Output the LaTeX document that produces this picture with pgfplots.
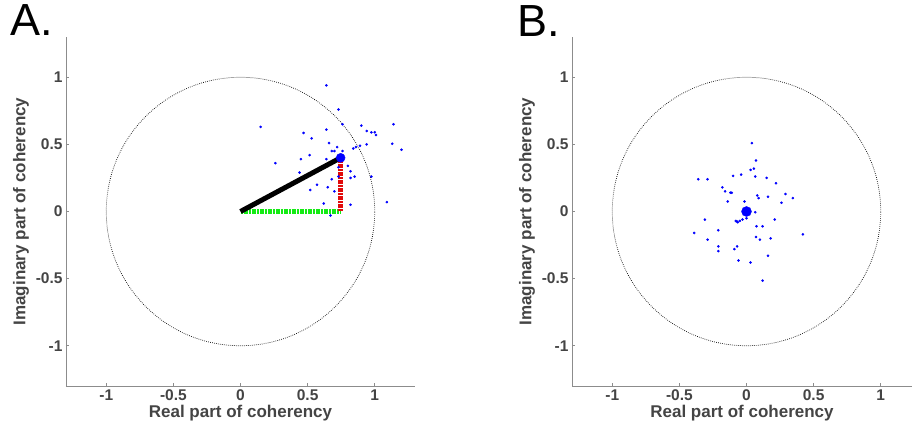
\documentclass[border=0pt]{standalone}
\usepackage{fontspec}
\setmainfont{Liberation Sans}
\usepackage{pgfplots}
\usepackage{pgfplotstable}
\pgfplotsset{compat=1.18}

\definecolor{axgray}{HTML}{8C8C8C}
\definecolor{txtgray}{HTML}{444444}
\definecolor{ptblue}{RGB}{0,0,255}
\definecolor{lgreen}{RGB}{20,235,20}
\definecolor{lred}{RGB}{225,10,10}

% trial points, panel A (real, imag)
\pgfplotstableread{
x y
0.64 0.94
0.73 0.76
0.15 0.63
0.76 0.65
0.90 0.64
1.14 0.65
0.94 0.60
0.975 0.59
1.00 0.59
1.01 0.57
0.47 0.585
0.64 0.61
0.53 0.545
0.66 0.51
0.72 0.48
0.68 0.45
0.70 0.45
0.76 0.45
0.84 0.47
0.86 0.48
0.89 0.49
0.94 0.50
1.13 0.505
1.20 0.46
0.515 0.42
0.45 0.39
0.26 0.36
0.64 0.39
0.73 0.33
0.82 0.30
0.80 0.34
0.44 0.29
0.85 0.26
0.82 0.25
0.73 0.26
0.68 0.24
0.57 0.20
0.65 0.18
0.70 0.15
0.52 0.16
0.975 0.26
0.62 0.06
0.82 0.05
1.09 0.07
0.67 -0.03
}\ptsA

% trial points, panel B
\pgfplotstableread{
x y
0.04 0.51
0.07 0.38
0.03 0.31
0.055 0.32
-0.10 0.265
-0.04 0.275
0.065 0.26
0.15 0.25
-0.36 0.24
-0.29 0.24
0.22 0.21
-0.18 0.18
-0.16 0.15
-0.12 0.14
-0.11 0.14
0.29 0.13
0.345 0.10
0.08 0.12
0.16 0.11
0.09 0.10
0.26 0.065
-0.14 0.075
-0.015 0.075
0.065 -0.005
0.00 -0.05
-0.03 -0.06
-0.05 -0.07
-0.07 -0.075
-0.08 -0.07
-0.065 -0.08
-0.31 -0.06
0.21 -0.06
-0.39 -0.16
-0.21 -0.14
0.075 -0.11
0.12 -0.11
0.42 -0.17
-0.29 -0.21
0.07 -0.19
0.10 -0.21
0.18 -0.20
-0.21 -0.26
-0.21 -0.295
-0.07 -0.26
-0.09 -0.28
0.16 -0.33
-0.06 -0.365
0.03 -0.38
0.12 -0.515
}\ptsB

\pgfplotsset{cohstyle/.style={
  scale only axis, height=349pt,
  xmin=-1.3, ymin=-1.3, ymax=1.3,
  axis x line*=bottom, axis y line*=left,
  axis line style={axgray, line width=0.8pt},
  tick align=inside, major tick length=3pt,
  tick style={axgray, line width=0.8pt},
  xtick={-1,-0.5,0,0.5,1}, ytick={-1,-0.5,0,0.5,1},
  xticklabels={-1,-0.5,0,0.5,1}, yticklabels={-1,-0.5,0,0.5,1},
  tick label style={font=\fontsize{15.5}{16}\selectfont\bfseries, text=txtgray},
  label style={font=\fontsize{17}{18}\selectfont\bfseries, text=txtgray},
  xlabel={Real part of coherency}, ylabel={Imaginary part of coherency},
  xlabel style={yshift=2pt},
}}

\begin{document}
\begin{tikzpicture}
\useasboundingbox (-66pt,-44pt) rectangle (846pt,386pt);

\begin{axis}[cohstyle, width=349pt, xmax=1.3, at={(0pt,0pt)}, anchor=south west]
\draw[black, line width=0.7pt, dash pattern=on 0.7pt off 1.3pt] (axis cs:0,0) circle [radius=1];
\addplot[only marks, mark=*, mark size=1.1pt, ptblue] table {\ptsA};
\addplot[lgreen, line width=5pt, dash pattern=on 1.2pt off 0.4pt] coordinates {(0,0) (0.746,0)};
\addplot[lred, line width=5pt, dash pattern=on 1.2pt off 0.4pt] coordinates {(0.746,0) (0.746,0.40)};
\addplot[black, line width=5pt] coordinates {(0,0) (0.746,0.40)};
\addplot[only marks, mark=*, mark size=4.5pt, ptblue] coordinates {(0.746,0.40)};
\end{axis}

\begin{axis}[cohstyle, width=340pt, xmax=1.233, at={(506pt,0pt)}, anchor=south west]
\draw[black, line width=0.7pt, dash pattern=on 0.7pt off 1.3pt] (axis cs:0,0) circle [radius=1];
\addplot[only marks, mark=*, mark size=1.1pt, ptblue] table {\ptsB};
\addplot[only marks, mark=*, mark size=5pt, ptblue] coordinates {(0,0)};
\end{axis}

\node[anchor=base west, inner sep=0pt, font=\fontsize{45}{45}\selectfont] at (-56pt,350pt) {A.};
\node[anchor=base west, inner sep=0pt, font=\fontsize{45}{45}\selectfont] at (451pt,349pt) {B.};
\end{tikzpicture}
\end{document}
